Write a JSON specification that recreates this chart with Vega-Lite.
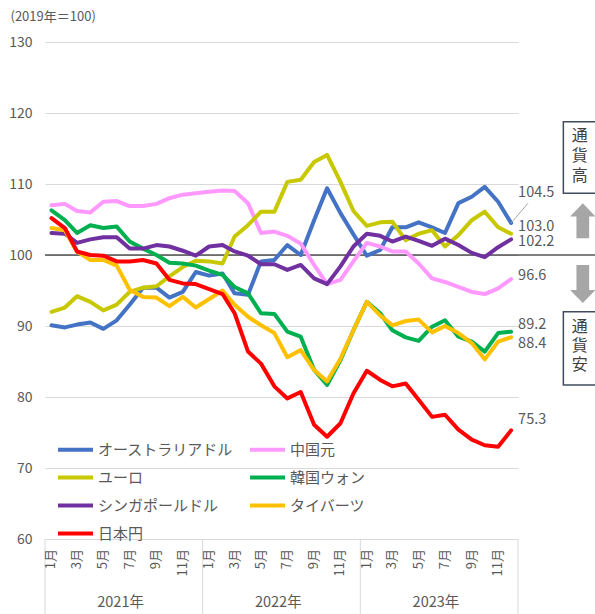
{
"$schema":"https://vega.github.io/schema/vega-lite/v6.json",
"width":473,"height":497,"autosize":"none",
"padding":{"left":45,"top":42,"right":77,"bottom":75},
"config":{"font":"Noto Sans CJK JP","view":{"stroke":null},"text":{"font":"Noto Sans CJK JP"}},
"layer":[
{"data":{"values":[{}]},"mark":{"type":"rule","color":"#000000","strokeWidth":1},
 "encoding":{"x":{"datum":{"year":2021,"month":1,"date":1,"utc":true},"type":"temporal"},"x2":{"datum":{"year":2024,"month":9,"date":1,"utc":true}},"y":{"datum":100,"type":"quantitative"}}},
{"data":{"values":[{"d":"2021-01-01"},{"d":"2022-01-01"},{"d":"2023-01-01"},{"d":"2024-01-01"}],"format":{"parse":{"d":"utc:'%Y-%m-%d'"}}},
 "mark":{"type":"rule","color":"#d9d9d9","strokeWidth":1},
 "encoding":{"x":{"field":"d","type":"temporal"},"y":{"datum":60,"type":"quantitative"},"y2":{"datum":49.4}}},
{"data":{"values":[{"d":"2021-07-02","t":"2021年"},{"d":"2022-07-02","t":"2022年"},{"d":"2023-07-02","t":"2023年"}],"format":{"parse":{"d":"utc:'%Y-%m-%d'"}}},
 "mark":{"type":"text","fontSize":14.5,"color":"#595959","baseline":"middle","align":"center","dx":-3},
 "encoding":{"x":{"field":"d","type":"temporal"},"y":{"datum":51,"type":"quantitative"},"text":{"field":"t"}}},
{"data":{"values":[{"d":"2021-01-16","t":"1月"},{"d":"2021-03-16","t":"3月"},{"d":"2021-05-16","t":"5月"},{"d":"2021-07-16","t":"7月"},{"d":"2021-09-16","t":"9月"},{"d":"2021-11-16","t":"11月"},{"d":"2022-01-16","t":"1月"},{"d":"2022-03-16","t":"3月"},{"d":"2022-05-16","t":"5月"},{"d":"2022-07-16","t":"7月"},{"d":"2022-09-16","t":"9月"},{"d":"2022-11-16","t":"11月"},{"d":"2023-01-16","t":"1月"},{"d":"2023-03-16","t":"3月"},{"d":"2023-05-16","t":"5月"},{"d":"2023-07-16","t":"7月"},{"d":"2023-09-16","t":"9月"},{"d":"2023-11-16","t":"11月"}],"format":{"parse":{"d":"utc:'%Y-%m-%d'"}}},
 "mark":{"type":"text","fontSize":13,"color":"#595959","angle":270,"align":"right","baseline":"middle","dx":1},
 "encoding":{"x":{"field":"d","type":"temporal"},"y":{"datum":58.45,"type":"quantitative"},"text":{"field":"t"}}},
{"data":{"format":{"parse":{"d":"utc:'%Y-%m-%d'"}},"values":[
{"d":"2021-01-16","s":"オーストラリアドル","v":90.1},{"d":"2021-02-16","s":"オーストラリアドル","v":89.8},{"d":"2021-03-16","s":"オーストラリアドル","v":90.2},{"d":"2021-04-16","s":"オーストラリアドル","v":90.5},{"d":"2021-05-16","s":"オーストラリアドル","v":89.6},{"d":"2021-06-16","s":"オーストラリアドル","v":90.8},{"d":"2021-07-16","s":"オーストラリアドル","v":93.0},{"d":"2021-08-16","s":"オーストラリアドル","v":95.4},{"d":"2021-09-16","s":"オーストラリアドル","v":95.4},{"d":"2021-10-16","s":"オーストラリアドル","v":94.0},{"d":"2021-11-16","s":"オーストラリアドル","v":94.8},{"d":"2021-12-16","s":"オーストラリアドル","v":97.6},
{"d":"2022-01-16","s":"オーストラリアドル","v":97.1},{"d":"2022-02-16","s":"オーストラリアドル","v":97.4},{"d":"2022-03-16","s":"オーストラリアドル","v":94.6},{"d":"2022-04-16","s":"オーストラリアドル","v":94.4},{"d":"2022-05-16","s":"オーストラリアドル","v":99.1},{"d":"2022-06-16","s":"オーストラリアドル","v":99.3},{"d":"2022-07-16","s":"オーストラリアドル","v":101.4},{"d":"2022-08-16","s":"オーストラリアドル","v":100.0},{"d":"2022-09-16","s":"オーストラリアドル","v":104.9},{"d":"2022-10-16","s":"オーストラリアドル","v":109.4},{"d":"2022-11-16","s":"オーストラリアドル","v":105.9},{"d":"2022-12-16","s":"オーストラリアドル","v":102.9},
{"d":"2023-01-16","s":"オーストラリアドル","v":99.9},{"d":"2023-02-16","s":"オーストラリアドル","v":100.7},{"d":"2023-03-16","s":"オーストラリアドル","v":103.9},{"d":"2023-04-16","s":"オーストラリアドル","v":103.9},{"d":"2023-05-16","s":"オーストラリアドル","v":104.6},{"d":"2023-06-16","s":"オーストラリアドル","v":103.9},{"d":"2023-07-16","s":"オーストラリアドル","v":103.1},{"d":"2023-08-16","s":"オーストラリアドル","v":107.3},{"d":"2023-09-16","s":"オーストラリアドル","v":108.2},{"d":"2023-10-16","s":"オーストラリアドル","v":109.6},{"d":"2023-11-16","s":"オーストラリアドル","v":107.5},{"d":"2023-12-16","s":"オーストラリアドル","v":104.5},
{"d":"2021-01-16","s":"中国元","v":107.0},{"d":"2021-02-16","s":"中国元","v":107.2},{"d":"2021-03-16","s":"中国元","v":106.2},{"d":"2021-04-16","s":"中国元","v":106.0},{"d":"2021-05-16","s":"中国元","v":107.5},{"d":"2021-06-16","s":"中国元","v":107.6},{"d":"2021-07-16","s":"中国元","v":106.9},{"d":"2021-08-16","s":"中国元","v":106.9},{"d":"2021-09-16","s":"中国元","v":107.2},{"d":"2021-10-16","s":"中国元","v":108.0},{"d":"2021-11-16","s":"中国元","v":108.5},{"d":"2021-12-16","s":"中国元","v":108.7},
{"d":"2022-01-16","s":"中国元","v":108.9},{"d":"2022-02-16","s":"中国元","v":109.1},{"d":"2022-03-16","s":"中国元","v":109.0},{"d":"2022-04-16","s":"中国元","v":107.3},{"d":"2022-05-16","s":"中国元","v":103.1},{"d":"2022-06-16","s":"中国元","v":103.3},{"d":"2022-07-16","s":"中国元","v":102.7},{"d":"2022-08-16","s":"中国元","v":101.6},{"d":"2022-09-16","s":"中国元","v":98.6},{"d":"2022-10-16","s":"中国元","v":95.9},{"d":"2022-11-16","s":"中国元","v":96.5},{"d":"2022-12-16","s":"中国元","v":99.1},
{"d":"2023-01-16","s":"中国元","v":101.7},{"d":"2023-02-16","s":"中国元","v":101.2},{"d":"2023-03-16","s":"中国元","v":100.5},{"d":"2023-04-16","s":"中国元","v":100.5},{"d":"2023-05-16","s":"中国元","v":98.8},{"d":"2023-06-16","s":"中国元","v":96.7},{"d":"2023-07-16","s":"中国元","v":96.2},{"d":"2023-08-16","s":"中国元","v":95.5},{"d":"2023-09-16","s":"中国元","v":94.8},{"d":"2023-10-16","s":"中国元","v":94.5},{"d":"2023-11-16","s":"中国元","v":95.3},{"d":"2023-12-16","s":"中国元","v":96.6},
{"d":"2021-01-16","s":"ユーロ","v":92.0},{"d":"2021-02-16","s":"ユーロ","v":92.6},{"d":"2021-03-16","s":"ユーロ","v":94.2},{"d":"2021-04-16","s":"ユーロ","v":93.4},{"d":"2021-05-16","s":"ユーロ","v":92.2},{"d":"2021-06-16","s":"ユーロ","v":93.0},{"d":"2021-07-16","s":"ユーロ","v":94.8},{"d":"2021-08-16","s":"ユーロ","v":95.4},{"d":"2021-09-16","s":"ユーロ","v":95.6},{"d":"2021-10-16","s":"ユーロ","v":97.0},{"d":"2021-11-16","s":"ユーロ","v":98.3},{"d":"2021-12-16","s":"ユーロ","v":99.2},
{"d":"2022-01-16","s":"ユーロ","v":99.1},{"d":"2022-02-16","s":"ユーロ","v":98.8},{"d":"2022-03-16","s":"ユーロ","v":102.6},{"d":"2022-04-16","s":"ユーロ","v":104.2},{"d":"2022-05-16","s":"ユーロ","v":106.1},{"d":"2022-06-16","s":"ユーロ","v":106.1},{"d":"2022-07-16","s":"ユーロ","v":110.3},{"d":"2022-08-16","s":"ユーロ","v":110.6},{"d":"2022-09-16","s":"ユーロ","v":113.1},{"d":"2022-10-16","s":"ユーロ","v":114.1},{"d":"2022-11-16","s":"ユーロ","v":110.3},{"d":"2022-12-16","s":"ユーロ","v":106.2},
{"d":"2023-01-16","s":"ユーロ","v":104.1},{"d":"2023-02-16","s":"ユーロ","v":104.6},{"d":"2023-03-16","s":"ユーロ","v":104.7},{"d":"2023-04-16","s":"ユーロ","v":102.1},{"d":"2023-05-16","s":"ユーロ","v":103.0},{"d":"2023-06-16","s":"ユーロ","v":103.5},{"d":"2023-07-16","s":"ユーロ","v":101.2},{"d":"2023-08-16","s":"ユーロ","v":102.8},{"d":"2023-09-16","s":"ユーロ","v":104.9},{"d":"2023-10-16","s":"ユーロ","v":106.1},{"d":"2023-11-16","s":"ユーロ","v":103.9},{"d":"2023-12-16","s":"ユーロ","v":103.0},
{"d":"2021-01-16","s":"韓国ウォン","v":106.3},{"d":"2021-02-16","s":"韓国ウォン","v":104.9},{"d":"2021-03-16","s":"韓国ウォン","v":103.1},{"d":"2021-04-16","s":"韓国ウォン","v":104.2},{"d":"2021-05-16","s":"韓国ウォン","v":103.8},{"d":"2021-06-16","s":"韓国ウォン","v":104.0},{"d":"2021-07-16","s":"韓国ウォン","v":101.9},{"d":"2021-08-16","s":"韓国ウォン","v":100.9},{"d":"2021-09-16","s":"韓国ウォン","v":100.0},{"d":"2021-10-16","s":"韓国ウォン","v":98.9},{"d":"2021-11-16","s":"韓国ウォン","v":98.8},{"d":"2021-12-16","s":"韓国ウォン","v":98.5},
{"d":"2022-01-16","s":"韓国ウォン","v":97.8},{"d":"2022-02-16","s":"韓国ウォン","v":97.2},{"d":"2022-03-16","s":"韓国ウォン","v":95.5},{"d":"2022-04-16","s":"韓国ウォン","v":94.6},{"d":"2022-05-16","s":"韓国ウォン","v":91.8},{"d":"2022-06-16","s":"韓国ウォン","v":91.7},{"d":"2022-07-16","s":"韓国ウォン","v":89.2},{"d":"2022-08-16","s":"韓国ウォン","v":88.5},{"d":"2022-09-16","s":"韓国ウォン","v":83.8},{"d":"2022-10-16","s":"韓国ウォン","v":81.7},{"d":"2022-11-16","s":"韓国ウォン","v":85.2},{"d":"2022-12-16","s":"韓国ウォン","v":89.4},
{"d":"2023-01-16","s":"韓国ウォン","v":93.4},{"d":"2023-02-16","s":"韓国ウォン","v":91.8},{"d":"2023-03-16","s":"韓国ウォン","v":89.4},{"d":"2023-04-16","s":"韓国ウォン","v":88.4},{"d":"2023-05-16","s":"韓国ウォン","v":87.9},{"d":"2023-06-16","s":"韓国ウォン","v":89.9},{"d":"2023-07-16","s":"韓国ウォン","v":90.8},{"d":"2023-08-16","s":"韓国ウォン","v":88.5},{"d":"2023-09-16","s":"韓国ウォン","v":87.8},{"d":"2023-10-16","s":"韓国ウォン","v":86.4},{"d":"2023-11-16","s":"韓国ウォン","v":89.0},{"d":"2023-12-16","s":"韓国ウォン","v":89.2},
{"d":"2021-01-16","s":"シンガポールドル","v":103.1},{"d":"2021-02-16","s":"シンガポールドル","v":103.0},{"d":"2021-03-16","s":"シンガポールドル","v":101.7},{"d":"2021-04-16","s":"シンガポールドル","v":102.2},{"d":"2021-05-16","s":"シンガポールドル","v":102.5},{"d":"2021-06-16","s":"シンガポールドル","v":102.5},{"d":"2021-07-16","s":"シンガポールドル","v":100.9},{"d":"2021-08-16","s":"シンガポールドル","v":100.9},{"d":"2021-09-16","s":"シンガポールドル","v":101.4},{"d":"2021-10-16","s":"シンガポールドル","v":101.2},{"d":"2021-11-16","s":"シンガポールドル","v":100.6},{"d":"2021-12-16","s":"シンガポールドル","v":99.9},
{"d":"2022-01-16","s":"シンガポールドル","v":101.2},{"d":"2022-02-16","s":"シンガポールドル","v":101.4},{"d":"2022-03-16","s":"シンガポールドル","v":100.5},{"d":"2022-04-16","s":"シンガポールドル","v":99.9},{"d":"2022-05-16","s":"シンガポールドル","v":98.7},{"d":"2022-06-16","s":"シンガポールドル","v":98.7},{"d":"2022-07-16","s":"シンガポールドル","v":97.9},{"d":"2022-08-16","s":"シンガポールドル","v":98.6},{"d":"2022-09-16","s":"シンガポールドル","v":96.7},{"d":"2022-10-16","s":"シンガポールドル","v":95.9},{"d":"2022-11-16","s":"シンガポールドル","v":98.4},{"d":"2022-12-16","s":"シンガポールドル","v":101.2},
{"d":"2023-01-16","s":"シンガポールドル","v":103.0},{"d":"2023-02-16","s":"シンガポールドル","v":102.7},{"d":"2023-03-16","s":"シンガポールドル","v":101.9},{"d":"2023-04-16","s":"シンガポールドル","v":102.6},{"d":"2023-05-16","s":"シンガポールドル","v":102.0},{"d":"2023-06-16","s":"シンガポールドル","v":101.3},{"d":"2023-07-16","s":"シンガポールドル","v":102.3},{"d":"2023-08-16","s":"シンガポールドル","v":101.4},{"d":"2023-09-16","s":"シンガポールドル","v":100.3},{"d":"2023-10-16","s":"シンガポールドル","v":99.7},{"d":"2023-11-16","s":"シンガポールドル","v":101.1},{"d":"2023-12-16","s":"シンガポールドル","v":102.2},
{"d":"2021-01-16","s":"タイバーツ","v":103.8},{"d":"2021-02-16","s":"タイバーツ","v":103.5},{"d":"2021-03-16","s":"タイバーツ","v":100.5},{"d":"2021-04-16","s":"タイバーツ","v":99.3},{"d":"2021-05-16","s":"タイバーツ","v":99.3},{"d":"2021-06-16","s":"タイバーツ","v":98.5},{"d":"2021-07-16","s":"タイバーツ","v":95.1},{"d":"2021-08-16","s":"タイバーツ","v":94.1},{"d":"2021-09-16","s":"タイバーツ","v":94.0},{"d":"2021-10-16","s":"タイバーツ","v":92.8},{"d":"2021-11-16","s":"タイバーツ","v":94.1},{"d":"2021-12-16","s":"タイバーツ","v":92.6},
{"d":"2022-01-16","s":"タイバーツ","v":93.8},{"d":"2022-02-16","s":"タイバーツ","v":95.0},{"d":"2022-03-16","s":"タイバーツ","v":93.0},{"d":"2022-04-16","s":"タイバーツ","v":91.3},{"d":"2022-05-16","s":"タイバーツ","v":90.1},{"d":"2022-06-16","s":"タイバーツ","v":89.0},{"d":"2022-07-16","s":"タイバーツ","v":85.6},{"d":"2022-08-16","s":"タイバーツ","v":86.6},{"d":"2022-09-16","s":"タイバーツ","v":83.8},{"d":"2022-10-16","s":"タイバーツ","v":82.2},{"d":"2022-11-16","s":"タイバーツ","v":85.4},{"d":"2022-12-16","s":"タイバーツ","v":89.4},
{"d":"2023-01-16","s":"タイバーツ","v":93.4},{"d":"2023-02-16","s":"タイバーツ","v":91.5},{"d":"2023-03-16","s":"タイバーツ","v":90.1},{"d":"2023-04-16","s":"タイバーツ","v":90.7},{"d":"2023-05-16","s":"タイバーツ","v":90.9},{"d":"2023-06-16","s":"タイバーツ","v":89.1},{"d":"2023-07-16","s":"タイバーツ","v":90.0},{"d":"2023-08-16","s":"タイバーツ","v":89.0},{"d":"2023-09-16","s":"タイバーツ","v":87.6},{"d":"2023-10-16","s":"タイバーツ","v":85.3},{"d":"2023-11-16","s":"タイバーツ","v":87.8},{"d":"2023-12-16","s":"タイバーツ","v":88.4},
{"d":"2021-01-16","s":"日本円","v":105.2},{"d":"2021-02-16","s":"日本円","v":103.8},{"d":"2021-03-16","s":"日本円","v":100.5},{"d":"2021-04-16","s":"日本円","v":100.0},{"d":"2021-05-16","s":"日本円","v":99.9},{"d":"2021-06-16","s":"日本円","v":99.1},{"d":"2021-07-16","s":"日本円","v":99.1},{"d":"2021-08-16","s":"日本円","v":99.3},{"d":"2021-09-16","s":"日本円","v":98.8},{"d":"2021-10-16","s":"日本円","v":96.5},{"d":"2021-11-16","s":"日本円","v":96.0},{"d":"2021-12-16","s":"日本円","v":95.9},
{"d":"2022-01-16","s":"日本円","v":95.2},{"d":"2022-02-16","s":"日本円","v":94.5},{"d":"2022-03-16","s":"日本円","v":91.8},{"d":"2022-04-16","s":"日本円","v":86.4},{"d":"2022-05-16","s":"日本円","v":84.7},{"d":"2022-06-16","s":"日本円","v":81.5},{"d":"2022-07-16","s":"日本円","v":79.8},{"d":"2022-08-16","s":"日本円","v":80.7},{"d":"2022-09-16","s":"日本円","v":76.1},{"d":"2022-10-16","s":"日本円","v":74.4},{"d":"2022-11-16","s":"日本円","v":76.3},{"d":"2022-12-16","s":"日本円","v":80.5},
{"d":"2023-01-16","s":"日本円","v":83.7},{"d":"2023-02-16","s":"日本円","v":82.4},{"d":"2023-03-16","s":"日本円","v":81.5},{"d":"2023-04-16","s":"日本円","v":81.9},{"d":"2023-05-16","s":"日本円","v":79.6},{"d":"2023-06-16","s":"日本円","v":77.2},{"d":"2023-07-16","s":"日本円","v":77.5},{"d":"2023-08-16","s":"日本円","v":75.4},{"d":"2023-09-16","s":"日本円","v":74.0},{"d":"2023-10-16","s":"日本円","v":73.2},{"d":"2023-11-16","s":"日本円","v":73.0},{"d":"2023-12-16","s":"日本円","v":75.3}
]},
 "mark":{"type":"line","strokeWidth":4,"strokeJoin":"round","strokeCap":"round"},
 "encoding":{
  "x":{"field":"d","type":"temporal","scale":{"type":"utc","domain":[{"year":2021,"month":1,"date":1,"utc":true},{"year":2024,"month":1,"date":1,"utc":true}],"nice":false},
   "axis":{"title":null,"labels":false,"ticks":false,"grid":false,"domain":true,"domainColor":"#d9d9d9"}},
  "y":{"field":"v","type":"quantitative","scale":{"domain":[60,130],"nice":false,"zero":false},
   "axis":{"title":"(2019年＝100)","titleAngle":0,"titleAlign":"left","titleBaseline":"middle","titleX":-35,"titleY":-26,"titleFontSize":13,"titleFontWeight":"normal","titleColor":"#595959","values":[60,70,80,90,100,110,120,130],"labelPadding":13,"labelFontSize":14,"labelColor":"#595959","ticks":false,"domain":false,"grid":true,"gridColor":"#d9d9d9","gridWidth":1}},
  "color":{"field":"s","type":"nominal",
   "scale":{"domain":["オーストラリアドル","中国元","ユーロ","韓国ウォン","シンガポールドル","タイバーツ","日本円"],"range":["#4472C4","#FF99FF","#C8C800","#00B050","#7030A0","#FFC000","#FF0000"]},
   "legend":{"title":null,"orient":"none","direction":"horizontal","legendX":11,"legendY":388,"columns":2,"symbolType":"stroke","symbolSize":1225,"symbolStrokeWidth":4,"labelFontSize":15,"labelColor":"#595959","labelOffset":3,"rowPadding":-10.5,"columnPadding":8,"padding":0,"labelLimit":300}}
 }},
{"data":{"values":[{}]},"mark":{"type":"rule","color":"#A6A6A6","strokeWidth":1},
 "encoding":{"x":{"datum":{"year":2023,"month":12,"date":16,"utc":true},"type":"temporal"},"x2":{"datum":{"year":2024,"month":1,"date":24,"utc":true}},"y":{"datum":104.5,"type":"quantitative"},"y2":{"datum":107.28}}},
{"data":{"values":[{}]},"mark":{"type":"text","align":"left","baseline":"middle","dx":7,"dy":-30,"fontSize":14.5,"color":"#595959"},
 "encoding":{"x":{"datum":{"year":2023,"month":12,"date":16,"utc":true},"type":"temporal"},"y":{"datum":104.5,"type":"quantitative"},"text":{"value":"104.5"}}},
{"data":{"values":[{}]},"mark":{"type":"text","align":"left","baseline":"middle","dx":7,"dy":-7,"fontSize":14.5,"color":"#595959"},
 "encoding":{"x":{"datum":{"year":2023,"month":12,"date":16,"utc":true},"type":"temporal"},"y":{"datum":103.0,"type":"quantitative"},"text":{"value":"103.0"}}},
{"data":{"values":[{}]},"mark":{"type":"text","align":"left","baseline":"middle","dx":7,"dy":3,"fontSize":14.5,"color":"#595959"},
 "encoding":{"x":{"datum":{"year":2023,"month":12,"date":16,"utc":true},"type":"temporal"},"y":{"datum":102.2,"type":"quantitative"},"text":{"value":"102.2"}}},
{"data":{"values":[{}]},"mark":{"type":"text","align":"left","baseline":"middle","dx":7,"dy":-3.6,"fontSize":14.5,"color":"#595959"},
 "encoding":{"x":{"datum":{"year":2023,"month":12,"date":16,"utc":true},"type":"temporal"},"y":{"datum":96.6,"type":"quantitative"},"text":{"value":"96.6"}}},
{"data":{"values":[{}]},"mark":{"type":"text","align":"left","baseline":"middle","dx":7,"dy":-6.7,"fontSize":14.5,"color":"#595959"},
 "encoding":{"x":{"datum":{"year":2023,"month":12,"date":16,"utc":true},"type":"temporal"},"y":{"datum":89.2,"type":"quantitative"},"text":{"value":"89.2"}}},
{"data":{"values":[{}]},"mark":{"type":"text","align":"left","baseline":"middle","dx":7,"dy":6.6,"fontSize":14.5,"color":"#595959"},
 "encoding":{"x":{"datum":{"year":2023,"month":12,"date":16,"utc":true},"type":"temporal"},"y":{"datum":88.4,"type":"quantitative"},"text":{"value":"88.4"}}},
{"data":{"values":[{}]},"mark":{"type":"text","align":"left","baseline":"middle","dx":7,"dy":-10.4,"fontSize":14.5,"color":"#595959"},
 "encoding":{"x":{"datum":{"year":2023,"month":12,"date":16,"utc":true},"type":"temporal"},"y":{"datum":75.3,"type":"quantitative"},"text":{"value":"75.3"}}},
{"data":{"values":[{}]},"mark":{"type":"rect","fill":"#ffffff","stroke":"#3E4C5E","strokeWidth":1.5},
 "encoding":{"x":{"datum":{"year":2024,"month":4,"date":15,"utc":true},"type":"temporal"},"x2":{"datum":{"year":2024,"month":10,"date":1,"utc":true}},"y":{"datum":118.77,"type":"quantitative"},"y2":{"datum":108.69}}},
{"data":{"values":[{}]},"mark":{"type":"rect","fill":"#ffffff","stroke":"#3E4C5E","strokeWidth":1.5},
 "encoding":{"x":{"datum":{"year":2024,"month":4,"date":15,"utc":true},"type":"temporal"},"x2":{"datum":{"year":2024,"month":10,"date":1,"utc":true}},"y":{"datum":92.01,"type":"quantitative"},"y2":{"datum":81.69}}},
{"data":{"values":[{}]},"mark":{"type":"text","align":"center","baseline":"middle","fontSize":16,"lineHeight":20,"color":"#404040"},
 "encoding":{"x":{"datum":{"year":2024,"month":5,"date":23,"utc":true},"type":"temporal"},"y":{"datum":116.76,"type":"quantitative"},"text":{"value":["通","貨","高"]}}},
{"data":{"values":[{}]},"mark":{"type":"text","align":"center","baseline":"middle","fontSize":16,"lineHeight":19,"color":"#404040"},
 "encoding":{"x":{"datum":{"year":2024,"month":5,"date":23,"utc":true},"type":"temporal"},"y":{"datum":89.79,"type":"quantitative"},"text":{"value":["通","貨","安"]}}},
{"data":{"values":[{}]},"mark":{"type":"point","shape":"M0,-1.38L1,-0.33L0.5,-0.33L0.5,1.38L-0.5,1.38L-0.5,-0.33L-1,-0.33Z","size":645,"filled":true,"fill":"#A6A6A6","strokeWidth":0,"opacity":1},
 "encoding":{"x":{"datum":{"year":2024,"month":5,"date":30,"utc":true},"type":"temporal"},"y":{"datum":104.82,"type":"quantitative"}}},
{"data":{"values":[{}]},"mark":{"type":"point","shape":"M0,1.5L1,0.48L0.5,0.48L0.5,-1.5L-0.5,-1.5L-0.5,0.48L-1,0.48Z","size":645,"filled":true,"fill":"#A6A6A6","strokeWidth":0,"opacity":1},
 "encoding":{"x":{"datum":{"year":2024,"month":5,"date":30,"utc":true},"type":"temporal"},"y":{"datum":95.92,"type":"quantitative"}}}
]
}
